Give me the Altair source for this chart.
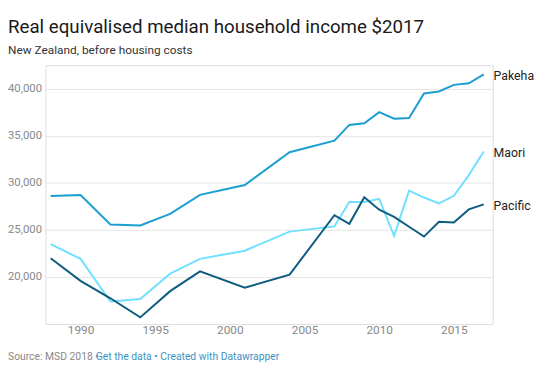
import altair as alt
import pandas as pd

years = [1988, 1990, 1992, 1994, 1996, 1998, 2001, 2004, 2007, 2008, 2009,
         2010, 2011, 2012, 2013, 2014, 2015, 2016, 2017]
pakeha = [28600, 28700, 25580, 25480, 26700, 28720, 29770, 33260, 34480, 36160,
          36330, 37520, 36820, 36890, 39510, 39720, 40420, 40590, 41530]
maori = [23490, 21920, 17380, 17650, 20350, 21920, 22790, 24820, 25370, 27960,
         27960, 28300, 24360, 29170, 28440, 27810, 28620, 30820, 33330]
pacific = [21990, 19580, 17730, 15700, 18490, 20590, 18850, 20240, 26560, 25650,
           28480, 27150, 26390, 25340, 24290, 25860, 25790, 27180, 27710]
groups = ["Pakeha", "Maori", "Pacific"]
colors = ["#1a9fd0", "#70e0ff", "#0d5c80"]
y_ticks = [20000, 25000, 30000, 35000, 40000]
x_ticks = [1990, 1995, 2000, 2005, 2010, 2015]

rows = []
for g, vals in zip(groups, [pakeha, maori, pacific]):
    for yr, v in zip(years, vals):
        rows.append({"year": yr, "group": g, "value": v})
df = pd.DataFrame(rows)
last = df[df["year"] == years[-1]]

FONT = "Roboto"
x = alt.X("year:Q", scale=alt.Scale(domain=[1987.65, 2017.6], nice=False, zero=False),
          axis=alt.Axis(values=x_ticks, format="d", grid=False, domain=False, ticks=False,
                        labelPadding=1, labelFontSize=12, labelColor="#888888",
                        labelFont=FONT, title=None))
y = alt.Y("value:Q", scale=alt.Scale(domain=[15000, 42500], nice=False, zero=False),
          axis=alt.Axis(values=y_ticks, format=",.0f", grid=True, gridColor="#e5e5e5",
                        domain=False, ticks=False, labelPadding=4, labelFontSize=11.5,
                        labelColor="#888888", labelFont=FONT, title=None))
color = alt.Color("group:N", scale=alt.Scale(domain=groups, range=colors), legend=None)

lines = alt.Chart(df).mark_line(strokeWidth=2).encode(x=x, y=y, color=color)
labels = alt.Chart(last).mark_text(align="left", baseline="middle", dx=10, dy=2,
                                   fontSize=12.5, font=FONT, color="#222222").encode(
    x="year:Q", y="value:Q", text="group:N")

foot1 = alt.Chart(pd.DataFrame({"t": ["Source: MSD 2018 \u2022"]})).mark_text(
    align="left", baseline="alphabetic", fontSize=10.5, font=FONT, color="#888888").encode(
    x=alt.value(-38), y=alt.value(299), text="t:N")
foot2 = alt.Chart(pd.DataFrame({"t": ["Get the data \u2022 Created with Datawrapper"]})).mark_text(
    align="left", baseline="alphabetic", fontSize=10.5, font=FONT, color="#3b93c4").encode(
    x=alt.value(51), y=alt.value(299), text="t:N")

chart = alt.layer(lines, labels, foot1, foot2).properties(
    width=454, height=262.6,
    autosize=alt.AutoSizeParams(type="none"),
    padding={"left": 38, "top": 55.4, "right": 47, "bottom": 45},
    title=alt.TitleParams(
        text="Real equivalised median household income $2017",
        subtitle="New Zealand, before housing costs",
        anchor="start", frame="group", dx=-38, offset=9,
        font=FONT, fontSize=19, fontWeight="normal", color="#1a1a1a",
        subtitleFont=FONT, subtitleFontSize=12, subtitleColor="#333333",
        subtitlePadding=9),
).configure_view(stroke=None).configure(background="white")

chart.save("out.html", embed_options={"renderer": "svg", "actions": False})
